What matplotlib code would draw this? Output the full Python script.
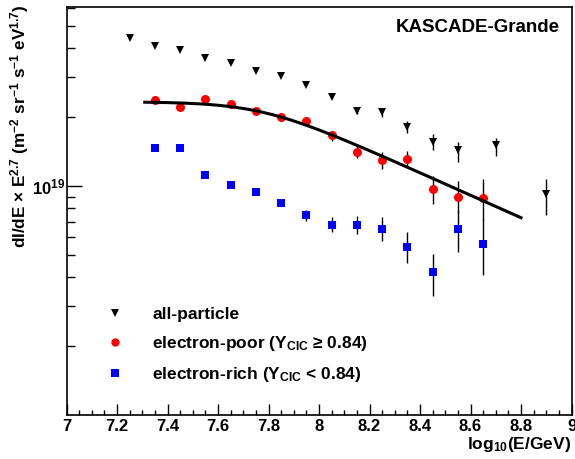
import numpy as np
import matplotlib
matplotlib.use("Agg")
import matplotlib.pyplot as plt
from matplotlib.lines import Line2D
from matplotlib.ticker import FixedLocator, NullFormatter, FixedFormatter

plt.rcParams['font.family'] = ['Liberation Sans', 'DejaVu Sans']
plt.rcParams['font.weight'] = 'bold'
plt.rcParams['mathtext.fontset'] = 'custom'
plt.rcParams['mathtext.rm'] = 'Liberation Sans:bold'
plt.rcParams['mathtext.it'] = 'Liberation Sans:bold'
plt.rcParams['mathtext.bf'] = 'Liberation Sans:bold'

# ---------------- data ----------------
all_x = [7.25, 7.35, 7.45, 7.55, 7.65, 7.75, 7.85, 7.95, 8.05, 8.15, 8.25, 8.35, 8.45, 8.55, 8.70, 8.90]
all_y = [4.42e19, 4.08e19, 3.93e19, 3.63e19, 3.43e19, 3.19e19, 3.02e19, 2.76e19, 2.45e19, 2.13e19,
         2.10e19, 1.81e19, 1.56e19, 1.44e19, 1.51e19, 9.23e18]
all_elo = [0, 0, 0, 0, 0, 0, 0, 0, 0.03e19, 0.07e19, 0.10e19, 0.11e19, 0.12e19, 0.17e19, 0.16e19, 1.76e18]
all_ehi = [0, 0, 0, 0, 0, 0, 0, 0, 0.03e19, 0.07e19, 0.08e19, 0.11e19, 0.13e19, 0.12e19, 0.12e19, 1.47e18]

poor_x = [7.35, 7.45, 7.55, 7.65, 7.75, 7.85, 7.95, 8.05, 8.15, 8.25, 8.35, 8.45, 8.55, 8.65]
poor_y = [2.37e19, 2.22e19, 2.39e19, 2.28e19, 2.13e19, 2.00e19, 1.93e19, 1.67e19, 1.41e19,
          1.30e19, 1.31e19, 9.73e18, 8.98e18, 8.86e18]
poor_elo = [0, 0, 0, 0, 0, 0, 0, 0.09e19, 0.08e19, 0.11e19, 0.10e19, 1.38e18, 1.36e18, 1.75e18]
poor_ehi = [0, 0, 0, 0, 0, 0, 0, 0.07e19, 0.09e19, 0.11e19, 0.12e19, 1.37e18, 1.52e18, 1.84e18]

rich_x = [7.35, 7.45, 7.55, 7.65, 7.75, 7.85, 7.95, 8.05, 8.15, 8.25, 8.35, 8.45, 8.55, 8.65]
rich_y = [1.47e19, 1.47e19, 1.12e19, 1.01e19, 9.45e18, 8.45e18, 7.45e18, 6.80e18, 6.80e18,
          6.53e18, 5.45e18, 4.21e18, 6.49e18, 5.60e18]
rich_elo = [0, 0, 0, 0, 0, 0, 0.42e18, 0.50e18, 0.63e18, 0.74e18, 0.83e18, 0.89e18, 1.33e18, 1.49e18]
rich_ehi = [0, 0, 0, 0, 0, 0, 0.41e18, 0.54e18, 0.61e18, 0.77e18, 0.83e18, 0.87e18, 1.31e18, 1.56e18]

# broken power-law fit to electron-poor spectrum
fit_range = (7.31, 8.80)
fit_logA = 19.368
fit_break = 7.77
fit_dgamma = -0.491
fit_eps = 3.36

x_ticks = [7.0, 7.2, 7.4, 7.6, 7.8, 8.0, 8.2, 8.4, 8.6, 8.8, 9.0]
x_labels = ['7', '7.2', '7.4', '7.6', '7.8', '8', '8.2', '8.4', '8.6', '8.8', '9']
y_major = [1e19]
y_labels = [r'$\mathbf{10^{19}}$']

# ---------------- figure ----------------
W, H = 575, 459
fig = plt.figure(figsize=(W / 100, H / 100), dpi=100)
L, R, T, B = 66.5, 571.5, 6.7, 415.3
ax = fig.add_axes([L / W, 1 - B / H, (R - L) / W, (B - T) / H])
ax.set_xlim(7, 9)
ax.set_yscale('log')
ax.set_ylim(1e18, 10 ** (19 + (186 - 6.7) / 229))

ekw = dict(ls='none', ecolor='black', elinewidth=1.0, capsize=1.5, capthick=1.0)
ax.errorbar(all_x, all_y, yerr=[all_elo, all_ehi], marker='v', ms=6, color='black',
            mec='black', mew=0, **ekw)
ax.errorbar(poor_x, poor_y, yerr=[poor_elo, poor_ehi], marker='o', ms=6.5, color='red',
            mec='red', mew=0, **ekw)
ax.errorbar(rich_x, rich_y, yerr=[rich_elo, rich_ehi], marker='s', ms=5.6, color='blue',
            mec='blue', mew=0, **ekw)

xf = np.linspace(fit_range[0], fit_range[1], 300)
yf = 10 ** (fit_logA + fit_dgamma / fit_eps * np.log10(1 + 10 ** (fit_eps * (xf - fit_break))))
ax.plot(xf, yf, color='black', lw=2.2, zorder=5)

# ticks
ax.xaxis.set_major_locator(FixedLocator(x_ticks))
ax.xaxis.set_major_formatter(FixedFormatter(x_labels))
ax.xaxis.set_minor_locator(FixedLocator(np.arange(7.0, 9.001, 0.05)))
ax.yaxis.set_major_locator(FixedLocator(y_major))
ax.yaxis.set_major_formatter(FixedFormatter(y_labels))
ax.yaxis.set_minor_locator(FixedLocator([k * 1e18 for k in range(2, 10)] + [k * 1e19 for k in range(2, 7)]))
ax.yaxis.set_minor_formatter(NullFormatter())
ax.tick_params(axis='x', which='major', direction='in', length=8, width=1, labelsize=12, pad=3)
ax.tick_params(axis='x', which='minor', direction='in', length=3.8, width=1)
ax.tick_params(axis='y', which='major', direction='in', length=11, width=1, labelsize=12, pad=1)
ax.tick_params(axis='y', which='minor', direction='in', length=5.5, width=1)
ax.tick_params(top=False, right=False, which='both')
for sp in ax.spines.values():
    sp.set_linewidth(1.2)
for lab in ax.get_xticklabels():
    lab.set_fontweight('bold')

fig.text(20 / W, 1 - 4 / H,
         r'dI/dE × E$^{2.7}$ (m$^{-2}$ sr$^{-1}$ s$^{-1}$ eV$^{1.7}$)',
         rotation=90, ha='center', va='top', fontsize=12.3, fontweight='bold')
fig.text(571 / W, 1 - 435 / H, r'log$_{10}$(E/GeV)', ha='right', va='top',
         fontsize=12.5, fontweight='bold')
fig.text(560 / W, 1 - 27 / H, 'KASCADE-Grande', ha='right', va='center',
         fontsize=13.5, fontweight='bold')

handles = [Line2D([], [], ls='none', marker='v', ms=5.5, color='black', mew=0),
           Line2D([], [], ls='none', marker='o', ms=6, color='red', mew=0),
           Line2D([], [], ls='none', marker='s', ms=5.5, color='blue', mew=0)]
labels = ['all-particle', r'electron-poor (Y$_{\rm CIC}$ ≥ 0.84)', r'electron-rich (Y$_{\rm CIC}$ < 0.84)']
leg = ax.legend(handles, labels, loc='upper left', bbox_to_anchor=(0.079, 0.265), frameon=False,
                borderpad=0, borderaxespad=0, handlelength=1.0, handletextpad=1.65,
                labelspacing=0.68, prop={'size': 12.5, 'weight': 'bold'})

fig.savefig('out.png', dpi=100)
